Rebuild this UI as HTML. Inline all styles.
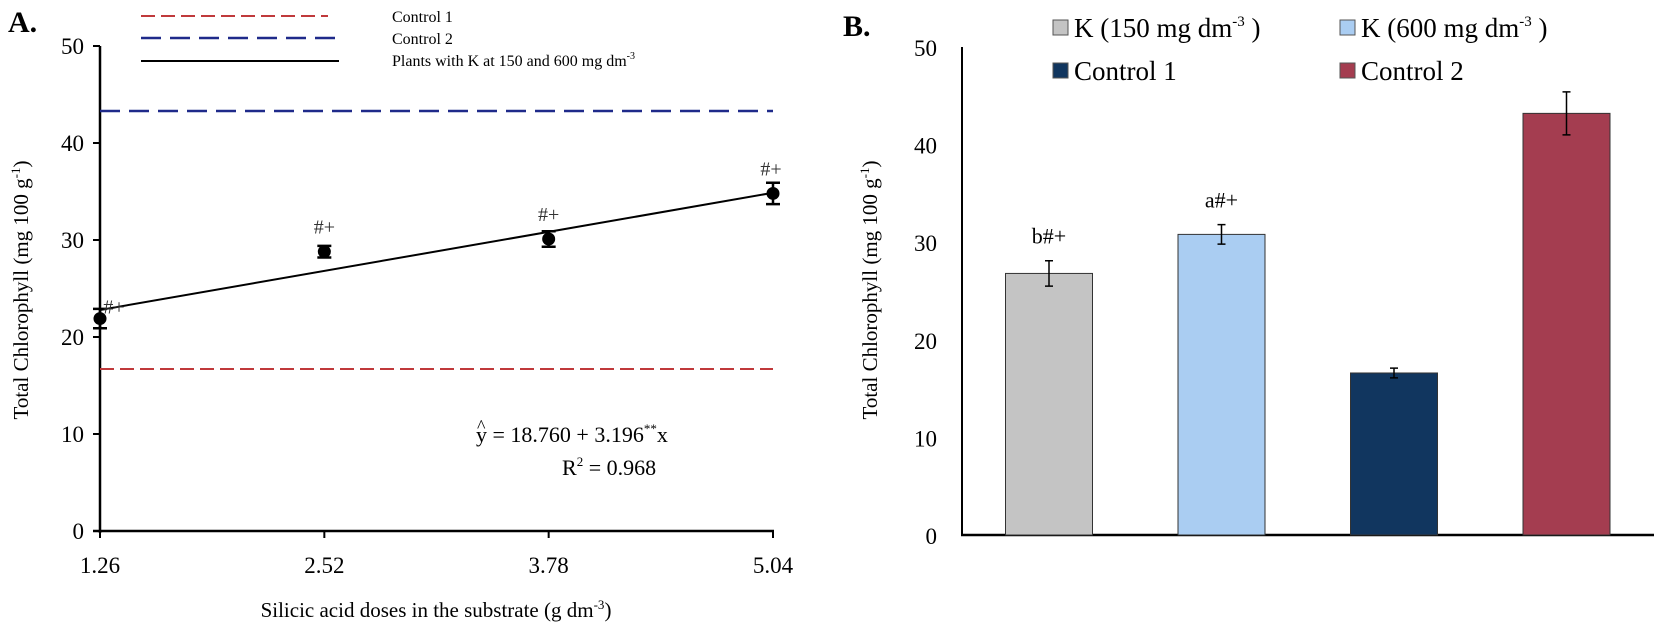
<!DOCTYPE html>
<html><head><meta charset="utf-8"><style>
body{margin:0;background:#fff;}
svg{display:block;font-family:"Liberation Serif",serif;}
</style></head><body>
<svg width="1654" height="637" viewBox="0 0 1654 637">
<g id="pa"></g>
<g id="pb"></g>
</svg>
<script>
// Panel A data
const doses = [1.26, 2.52, 3.78, 5.04];
const chlA = [21.9, 28.8, 30.1, 34.8];
const errA = [1.0, 0.6, 0.8, 1.1];
const ticksAY = [0, 10, 20, 30, 40, 50];
const tickLabelsAX = ["1.26", "2.52", "3.78", "5.04"];
const control1 = [16.7];
const control2 = [43.3];
const regCoef = [18.760, 3.196];
// Panel B data
const barCats = ["K (150 mg dm-3)", "K (600 mg dm-3)", "Control 1", "Control 2"];
const barVals = [26.8, 30.8, 16.6, 43.2];
const barErrs = [1.3, 1.0, 0.5, 2.2];
const barLabels = ["b#+", "a#+", "", ""];
const ticksBY = [0, 10, 20, 30, 40, 50];

const NS = "http://www.w3.org/2000/svg";
function mk(parent, tag, attrs, text){
  const e = document.createElementNS(NS, tag);
  for (const k in attrs) e.setAttribute(k, attrs[k]);
  if (text !== undefined) e.textContent = text;
  parent.appendChild(e); return e;
}
// ---------- Panel A ----------
const pa = document.getElementById('pa');
const ax = v => 100 + (v - 1.26) / (5.04 - 1.26) * 673;
const ay = v => 531 - v * 9.7;
let e;
e = mk(pa, 'text', {x:8, y:32, 'font-size':30, 'font-weight':'bold'}, 'A.');
 
e = mk(pa, 'line', {x1:141, x2:328, y1:16, y2:16, stroke:'#c0393b', 'stroke-width':2, 'stroke-dasharray':'14 6'});
 
e = mk(pa, 'line', {x1:141, x2:343, y1:38, y2:38, stroke:'#1f2a8a', 'stroke-width':2.5, 'stroke-dasharray':'20 9'});
 
e = mk(pa, 'line', {x1:141, x2:339, y1:61, y2:61, stroke:'#000', 'stroke-width':2});
 
e = mk(pa, 'text', {x:392, y:22, 'font-size':16}, 'Control 1');
 
e = mk(pa, 'text', {x:392, y:44, 'font-size':16}, 'Control 2');
 
e = mk(pa, 'text', {x:392, y:66, 'font-size':16}, 'Plants with K at 150 and 600 mg dm');
 
mk(e, 'tspan', {dy:-7, 'font-size':10}, '-3');
e = mk(pa, 'line', {x1:100, x2:100, y1:46, y2:533, stroke:'#000', 'stroke-width':2.5});
 
e = mk(pa, 'line', {x1:93, x2:774, y1:531, y2:531, stroke:'#000', 'stroke-width':2.5});
 
ticksAY.forEach(t => {
  e = mk(pa, 'line', {x1:93, x2:100, y1:ay(t), y2:ay(t), stroke:'#000', 'stroke-width':2});
   
  e = mk(pa, 'text', {x:84, y:ay(t)+8, 'font-size':23, 'text-anchor':'end'}, String(t));
   
});
doses.forEach((d, i) => {
  e = mk(pa, 'line', {x1:ax(d), x2:ax(d), y1:531, y2:538, stroke:'#000', 'stroke-width':2});
   
  e = mk(pa, 'text', {x:ax(d), y:573, 'font-size':23, 'text-anchor':'middle'}, tickLabelsAX[i]);
   
});
e = mk(pa, 'text', {x:436, y:617, 'font-size':21, 'text-anchor':'middle'}, 'Silicic acid doses in the substrate (g dm');
 
mk(e, 'tspan', {dy:-8, 'font-size':13}, '-3'); mk(e, 'tspan', {dy:8}, ')');
e = mk(pa, 'text', {x:0, y:0, 'font-size':21, 'text-anchor':'middle', transform:'translate(28,290) rotate(-90)'}, 'Total Chlorophyll (mg 100 g');
 
mk(e, 'tspan', {dy:-8, 'font-size':13}, '-1'); mk(e, 'tspan', {dy:8}, ')');
e = mk(pa, 'line', {x1:100, x2:773, y1:ay(control2[0]), y2:ay(control2[0]), stroke:'#1f2a8a', 'stroke-width':2.5, 'stroke-dasharray':'20 9'});
 
e = mk(pa, 'line', {x1:100, x2:773, y1:ay(control1[0]), y2:ay(control1[0]), stroke:'#c0393b', 'stroke-width':2, 'stroke-dasharray':'14 6'});
 
const r0 = regCoef[0] + regCoef[1]*1.26, r1 = regCoef[0] + regCoef[1]*5.04;
e = mk(pa, 'line', {x1:ax(1.26), x2:ax(5.04), y1:ay(r0), y2:ay(r1), stroke:'#000', 'stroke-width':2});
 
doses.forEach((d, i) => {
  const x = ax(d), y = ay(chlA[i]), eh = errA[i]*9.7;
  e = mk(pa, 'path', {d:`M${x},${y-eh}V${y+eh}M${x-7},${y-eh}H${x+7}M${x-7},${y+eh}H${x+7}`, stroke:'#000', 'stroke-width':2.5, fill:'none'});
   
  e = mk(pa, 'circle', {cx:x, cy:y, r:6.5, fill:'#000'});
   
  e = mk(pa, 'text', {x:x + (i===0?14:(i===3?-2:0)), y:(i===0? y-5 : y-18), 'font-size':20, 'text-anchor':'middle', fill:'#333'}, '#+');
   
});
e = mk(pa, 'text', {x:476, y:442, 'font-size':22}, 'y = 18.760 + 3.196');
 
mk(e, 'tspan', {dy:-9, 'font-size':13}, '**'); mk(e, 'tspan', {dy:9}, 'x');
e = mk(pa, 'text', {x:477, y:432, 'font-size':18}, '^');
 
e = mk(pa, 'text', {x:562, y:475, 'font-size':22}, 'R');
 
mk(e, 'tspan', {dy:-9, 'font-size':13}, '2'); mk(e, 'tspan', {dy:9}, ' = 0.968');

// ---------- Panel B ----------
const pb = document.getElementById('pb');
const by = v => 535 - v * 9.76;
const bx = i => 1049 + i * 172.5;
const colors = ['#c4c4c4', '#aacdf2', '#11365f', '#a43d50'];
e = mk(pb, 'text', {x:843, y:36, 'font-size':30, 'font-weight':'bold'}, 'B.');
 
e = mk(pb, 'line', {x1:962, x2:962, y1:47, y2:536, stroke:'#000', 'stroke-width':2});
 
e = mk(pb, 'line', {x1:961, x2:1654, y1:535, y2:535, stroke:'#000', 'stroke-width':2.5});
 
ticksBY.forEach(t => {
  e = mk(pb, 'text', {x:937, y:by(t)+9, 'font-size':23, 'text-anchor':'end'}, String(t));
   
});
e = mk(pb, 'text', {x:0, y:0, 'font-size':21, 'text-anchor':'middle', transform:'translate(877,290) rotate(-90)'}, 'Total Chlorophyll (mg 100 g');
 
mk(e, 'tspan', {dy:-8, 'font-size':13}, '-1'); mk(e, 'tspan', {dy:8}, ')');
barVals.forEach((v, i) => {
  const c = bx(i);
  e = mk(pb, 'rect', {x:c-43.5, y:by(v), width:87, height:535-by(v), fill:colors[i], stroke:'#333', 'stroke-width':1});
   
  const t = by(v + barErrs[i]), b = by(v - barErrs[i]);
  e = mk(pb, 'path', {d:`M${c},${t}V${b}M${c-4},${t}H${c+4}M${c-4},${b}H${c+4}`, stroke:'#000', 'stroke-width':1.5, fill:'none'});
   
  if (barLabels[i]) {
    e = mk(pb, 'text', {x:c, y:by(v + barErrs[i]) - 17, 'font-size':22, 'text-anchor':'middle'}, barLabels[i]);
     
  }
});
const legPos = [[1053,27],[1340,27],[1053,70],[1340,70]];
barCats.forEach((name, i) => {
  const [lx, ly] = legPos[i];
  e = mk(pb, 'rect', {x:lx, y:ly-7, width:15, height:15, fill:colors[i], stroke:'#555', 'stroke-width':1});
   
  const isK = name.startsWith('K');
  e = mk(pb, 'text', {x:lx+21, y:ly+10, 'font-size':27}, isK ? name.replace(' dm-3)', ' dm') : name);
   
  if (isK) { mk(e, 'tspan', {dy:-11, 'font-size':15}, '-3'); mk(e, 'tspan', {dy:11}, ' )'); }
});
</script>
</body></html>
